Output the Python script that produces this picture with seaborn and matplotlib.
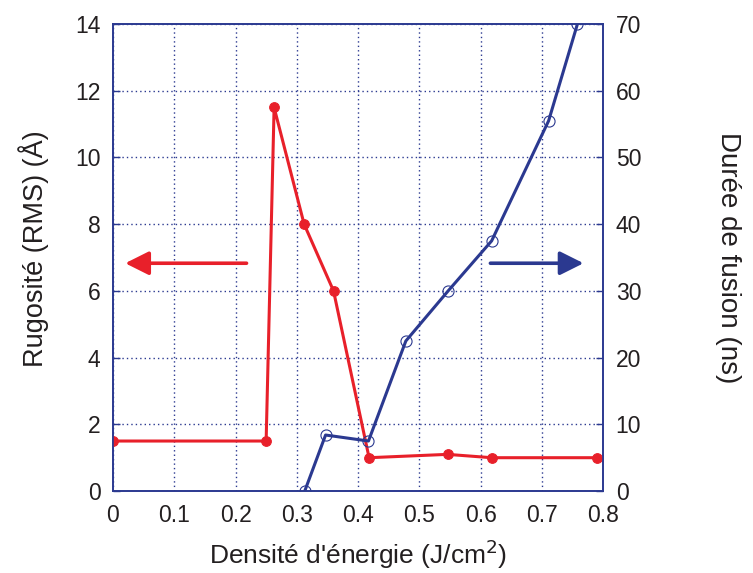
import numpy as np
import pandas as pd
import seaborn as sns
import matplotlib.pyplot as plt

# Rugosité (left axis) and durée de fusion (right axis) vs densité d'énergie
red_x = [0.0, 0.25, 0.263, 0.312, 0.36, 0.418, 0.546, 0.618, 0.79]
red_y = [1.5, 1.5, 11.5, 8.0, 6.0, 1.0, 1.1, 1.0, 1.0]
blue_x = [0.313, 0.347, 0.417, 0.478, 0.547, 0.618, 0.711, 0.758]
blue_y = [0.0, 8.4, 7.5, 22.5, 30.0, 37.5, 55.5, 70.0]

x_ticks = [0, 0.1, 0.2, 0.3, 0.4, 0.5, 0.6, 0.7, 0.8]
x_ticklabels = ['0', '0.1', '0.2', '0.3', '0.4', '0.5', '0.6', '0.7', '0.8']
left_ticks = [0, 2, 4, 6, 8, 10, 12, 14]
right_ticks = [0, 10, 20, 30, 40, 50, 60, 70]

RED = '#E8202A'
BLUE = '#2B3990'
TXT = '#231F20'

sns.set_style("white")
plt.rcParams['font.family'] = ['Liberation Sans', 'DejaVu Sans']

fig = plt.figure(figsize=(7.53, 5.73), dpi=100)
ax = fig.add_axes([0.150, 0.143, 0.651, 0.815])
ax2 = ax.twinx()

red_df = pd.DataFrame({'x': red_x, 'y': red_y})
blue_df = pd.DataFrame({'x': blue_x, 'y': blue_y})

sns.lineplot(data=red_df, x='x', y='y', ax=ax, sort=False, estimator=None,
             color=RED, lw=2.2, marker='o', markersize=7,
             markerfacecolor=RED, markeredgecolor=RED, zorder=3)
sns.lineplot(data=blue_df, x='x', y='y', ax=ax2, sort=False, estimator=None,
             color=BLUE, lw=2.2, marker='o', markersize=8,
             markerfacecolor='none', markeredgecolor=BLUE,
             markeredgewidth=0.8, zorder=3)

ax.set_xlim(0, 0.8)
ax.set_ylim(0, 14)
ax2.set_ylim(0, 70)
ax.set_xticks(x_ticks)
ax.set_xticklabels(x_ticklabels)
ax.set_yticks(left_ticks)
ax2.set_yticks(right_ticks)

ax.grid(True, color=BLUE, linestyle=(0, (1, 2.2)), linewidth=1.0)
ax.set_axisbelow(True)

for a in (ax, ax2):
    for sp in a.spines.values():
        sp.set_color(BLUE)
        sp.set_linewidth(1.2)
    a.tick_params(direction='in', length=5, width=1, color=BLUE,
                  labelsize=16.5, labelcolor=TXT, pad=9)
ax.tick_params(axis='both', which='both', top=False, right=False)
ax2.tick_params(axis='y', left=False, right=True)

ax.set_xlabel("Densité d'énergie (J/cm$^2$)", fontsize=19, color=TXT, va='center')
ax.xaxis.set_label_coords(0.5, -0.135)
ax.set_ylabel("Rugosité (RMS) (Å)", fontsize=19.5, color=TXT, va='center')
ax.yaxis.set_label_coords(-0.162, 0.52)
ax2.set_ylabel("Durée de fusion (ns)", fontsize=20, color=TXT, rotation=270,
               va='center')
ax2.yaxis.set_label_coords(1.255, 0.5)

# direction arrows
ax.annotate('', xy=(0.020, 6.83), xytext=(0.218, 6.83),
            arrowprops=dict(arrowstyle='-|>', color=RED, lw=2.6,
                            mutation_scale=36, shrinkA=0, shrinkB=0))
ax2.annotate('', xy=(0.768, 34.15), xytext=(0.616, 34.15),
             arrowprops=dict(arrowstyle='-|>', color=BLUE, lw=2.6,
                             mutation_scale=36, shrinkA=0, shrinkB=0))

plt.savefig("out.png", dpi=100)
plt.close()
